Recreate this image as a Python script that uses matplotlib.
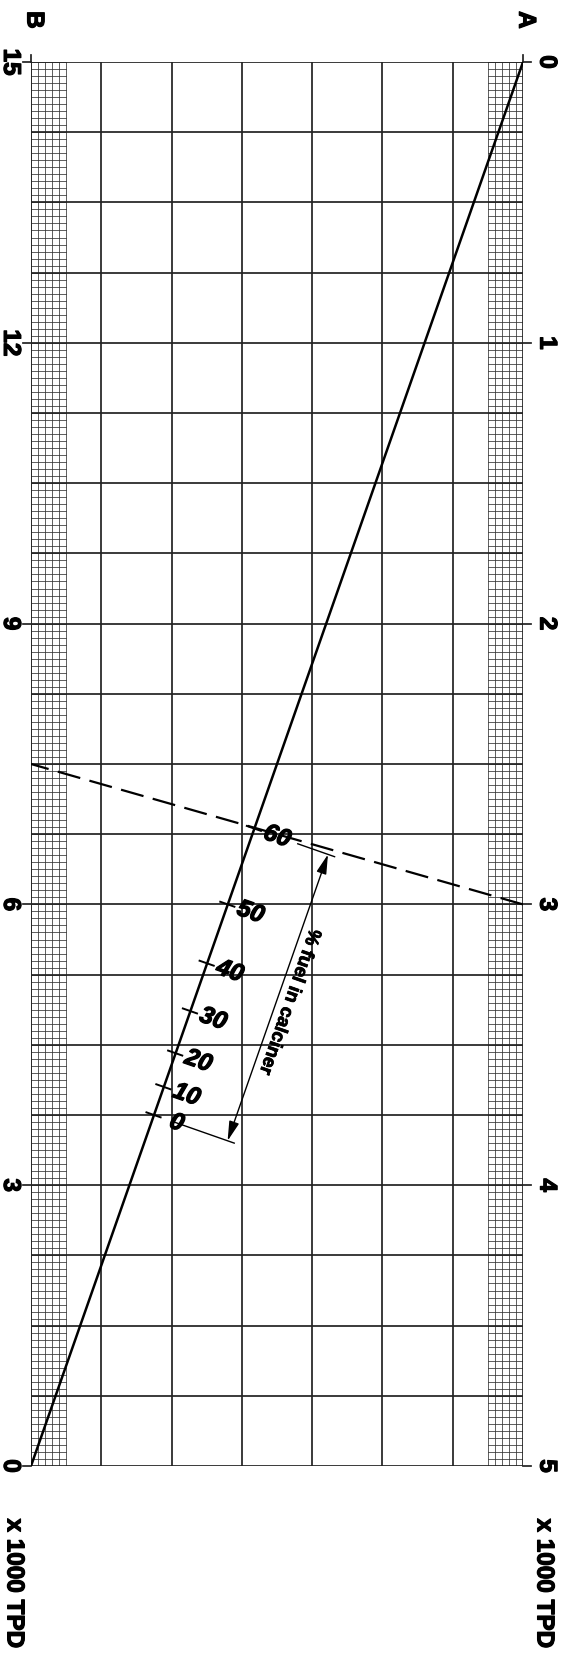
import numpy as np
import matplotlib.pyplot as plt
import matplotlib.patheffects as pe

# scales (A on the right, B on the left, both x 1000 TPD)
a_ticks = [0, 1, 2, 3, 4, 5]
b_ticks = [15, 12, 9, 6, 3, 0]
b_max = 15

# example reading drawn dashed: A = 3 -> B = 7.5
a_read = 3.0
b_read = 7.5

# % fuel in calciner scale on the diagonal, position given in A units
fuel_pct = [0, 10, 20, 30, 40, 50, 60]
fuel_pos = [3.75, 3.65, 3.53, 3.38, 3.21, 3.00, 2.73]

n_cols = 7
font = 'Liberation Sans'
heavy = [pe.withStroke(linewidth=0.9, foreground='black')]

fig = plt.figure(figsize=(5.69, 16.78), dpi=100)
ax = fig.add_axes([31 / 569, 1 - 1466 / 1678, 492 / 569, 1404 / 1678])
ax.set_xlim(0, n_cols)
ax.set_ylim(5, 0)
ax.axis('off')

grid_c = '#222222'

# fine hatched bands along both scales
for x0 in [0, n_cols - 0.5]:
    for fx in np.arange(0, 0.51, 0.1):
        ax.plot([x0 + fx, x0 + fx], [0, 5], color='#333333', lw=0.55)
    for fy in np.arange(0, 5.001, 0.025):
        ax.plot([x0, x0 + 0.5], [fy, fy], color='#333333', lw=0.55)

# main grid
for c in range(n_cols + 1):
    ax.plot([c, c], [0, 5], color=grid_c, lw=1.25)
for r in np.arange(0, 5.001, 0.25):
    ax.plot([0, n_cols], [r, r], color=grid_c, lw=1.25)


def to_data(px, py):
    return ax.transData.inverted().transform((px, py))


def disp(x, y):
    return ax.transData.transform((x, y))


# small outside ticks on the scales
dx_tick = to_data(*(disp(0, 0) + np.array([8, 0])))[0]
for a in a_ticks:
    ax.plot([n_cols, n_cols + dx_tick], [a, a], color=grid_c, lw=1.25, clip_on=False)
    ax.plot([0, -dx_tick], [a, a], color=grid_c, lw=1.25, clip_on=False)
dy_tick = to_data(*(disp(0, 0) + np.array([0, 7])))[1]
ax.plot([0, 0], [0, dy_tick], color=grid_c, lw=1.25, clip_on=False)
ax.plot([n_cols, n_cols], [0, dy_tick], color=grid_c, lw=1.25, clip_on=False)

# diagonal: A = 0 to B = 0
ax.plot([n_cols, 0], [0, 5], color='black', lw=1.8, solid_capstyle='butt')

# dashed reading line
ax.plot([n_cols, 0], [a_read, (b_max - b_read) / 3], color='black', lw=1.6,
        dashes=(10.5, 4.3))

# geometry of the diagonal in display space
d0 = disp(n_cols, 0)
d1 = disp(0, 5)
along = (d1 - d0) / np.linalg.norm(d1 - d0)
perp = np.array([-along[1], along[0]])
if perp[0] < 0:
    perp = -perp
perp_ang = np.degrees(np.arctan2(perp[1], perp[0]))
along_ang = np.degrees(np.arctan2(along[1], along[0]))


def diag_point(pos):
    return disp(n_cols * (1 - pos / 5), pos)


for pct, pos in zip(fuel_pct, fuel_pos):
    p = diag_point(pos)
    t0 = to_data(*(p - 8 * perp))
    t1 = to_data(*(p + 7 * perp))
    ax.plot([t0[0], t1[0]], [t0[1], t1[1]], color='black', lw=1.4)
    lp = to_data(*(p + 24 * perp))
    ax.text(lp[0], lp[1], str(pct), rotation=perp_ang, rotation_mode='anchor',
            ha='center', va='center', fontsize=17.5, fontweight='bold',
            fontstyle='italic', family=font, path_effects=heavy)

# extension lines and dimension arrow
p0 = diag_point(fuel_pos[0])
p60 = diag_point(fuel_pos[-1])
for p, s in [(p0, 20), (p60, 46)]:
    e0 = to_data(*(p + s * perp))
    e1 = to_data(*(p + 85 * perp))
    ax.plot([e0[0], e1[0]], [e0[1], e1[1]], color='black', lw=1.0)

a_top = to_data(*(p60 + 78 * perp))
a_bot = to_data(*(p0 + 78 * perp))
ax.annotate('', xy=a_top, xytext=a_bot,
            arrowprops=dict(arrowstyle='<|-|>,head_length=0.85,head_width=0.22',
                            mutation_scale=14, lw=1.0, color='black',
                            shrinkA=0, shrinkB=0))
mid = (p0 + p60) / 2 + 90 * perp
tp = to_data(*mid)
ax.text(tp[0], tp[1], '% fuel in calciner', rotation=along_ang,
        rotation_mode='anchor', ha='center', va='center', fontsize=13.5,
        fontweight='bold', family=font,
        path_effects=[pe.withStroke(linewidth=0.6, foreground='black')])

# scale numbers and titles
for a, b in zip(a_ticks, b_ticks):
    ax.text(7.34, a, str(a), rotation=-90, ha='center', va='center',
            fontsize=17.5, fontweight='bold', family=font, clip_on=False,
            path_effects=heavy)
    ax.text(-0.29, a, str(b), rotation=-90, ha='center', va='center',
            fontsize=17.5, fontweight='bold', family=font, clip_on=False,
            path_effects=heavy)

for x, y, s in [(7.04, -0.15, 'A'), (0.043, -0.15, 'B'),
                (7.30, 5.417, 'x 1000 TPD'), (-0.24, 5.417, 'x 1000 TPD')]:
    ax.text(x, y, s, rotation=-90, ha='center', va='center',
            fontsize=17.5, fontweight='bold', family=font, path_effects=heavy)

fig.savefig('out.png', dpi=100, facecolor='white')
